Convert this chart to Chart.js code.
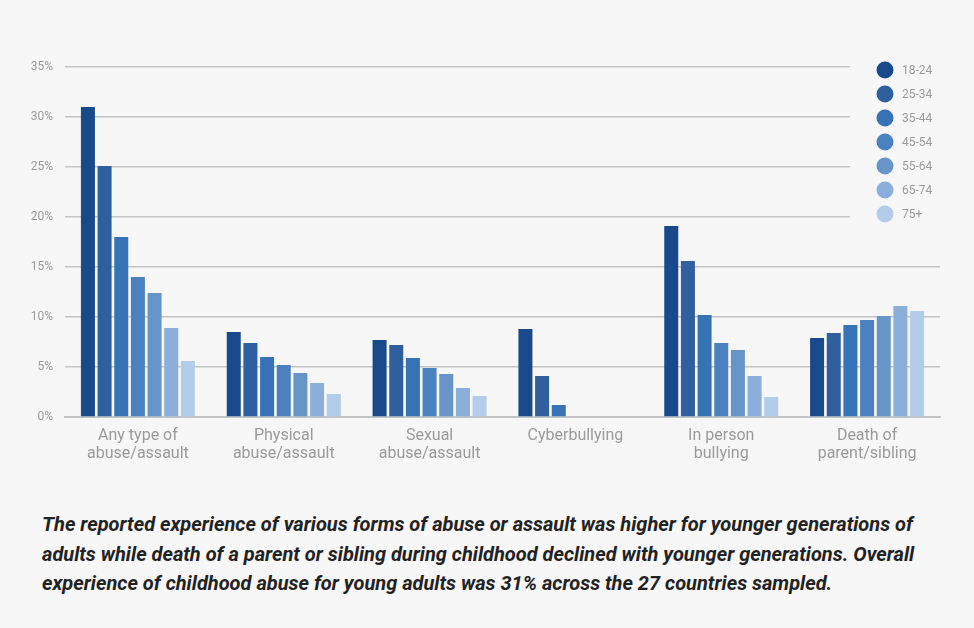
<!DOCTYPE html>
<html>
<head>
<meta charset="utf-8">
<script src="https://cdn.jsdelivr.net/npm/chart.js@4.4.1/dist/chart.umd.min.js"></script>
<style>
  html, body { margin: 0; padding: 0; background: #f7f7f7; }
  #wrap { position: absolute; left: 0; top: 0; width: 974px; height: 480px; }
  #caption { position: absolute; left: 42px; top: 510px; width: 930px; white-space: nowrap;
    font-family: Roboto, sans-serif; font-weight: bold; font-style: italic;
    font-size: 20px; line-height: 29.5px; color: #222; }
</style>
</head>
<body>
<div id="wrap"><canvas id="c"></canvas></div>
<div id="caption">The reported experience of various forms of abuse or assault was higher for younger generations of<br>adults while death of a parent or sibling during childhood declined with younger generations. Overall<br>experience of childhood abuse for young adults was 31% across the 27 countries sampled.</div>
<script>
const categories = [["Any type of","abuse/assault"],["Physical","abuse/assault"],["Sexual","abuse/assault"],["Cyberbullying"],["In person","bullying"],["Death of","parent/sibling"]];
const ageGroups = ["18-24","25-34","35-44","45-54","55-64","65-74","75+"];
const colors = ["#184a8b","#2f5f9f","#3771b6","#4b80c1","#6895c8","#8baeda","#b2cce9"];
const age18_24 = [31.0, 8.5, 7.7, 8.8, 19.1, 7.9];
const age25_34 = [25.1, 7.4, 7.2, 4.1, 15.6, 8.4];
const age35_44 = [18.0, 6.0, 5.9, 1.2, 10.2, 9.2];
const age45_54 = [14.0, 5.2, 4.9, 0, 7.4, 9.7];
const age55_64 = [12.4, 4.4, 4.3, 0, 6.7, 10.1];
const age65_74 = [8.9, 3.4, 2.9, 0, 4.1, 11.1];
const age75plus = [5.6, 2.3, 2.1, 0, 2.0, 10.6];
const seriesValues = [age18_24, age25_34, age35_44, age45_54, age55_64, age65_74, age75plus];
const yTicks = [0, 5, 10, 15, 20, 25, 30, 35];

const legendPlugin = {
  id: 'sideLegend',
  afterDatasetsDraw(chart) {
    const ctx = chart.ctx;
    ctx.save();
    ctx.fillStyle = '#f7f7f7';
    ctx.fillRect(850, 55, 100, 175);
    ctx.font = '12px Roboto, sans-serif';
    ctx.textBaseline = 'middle';
    ctx.textAlign = 'left';
    chart.data.datasets.forEach((ds, i) => {
      const y = 70 + i * 24;
      ctx.beginPath();
      ctx.arc(885, y, 8.5, 0, Math.PI * 2);
      ctx.fillStyle = ds.backgroundColor;
      ctx.fill();
      ctx.fillStyle = '#9a9a9a';
      ctx.fillText(ds.label, 902, y + 1);
    });
    ctx.restore();
  }
};

new Chart(document.getElementById('c'), {
  type: 'bar',
  data: {
    labels: categories,
    datasets: ageGroups.map((g, i) => ({
      label: g,
      data: seriesValues[i],
      backgroundColor: colors[i],
      categoryPercentage: 0.8,
      barPercentage: 0.84
    }))
  },
  plugins: [legendPlugin],
  options: {
    responsive: true,
    maintainAspectRatio: false,
    animation: false,
    layout: { padding: { left: 0, right: 34, top: 67, bottom: 0 } },
    plugins: { legend: { display: false }, tooltip: { enabled: false } },
    scales: {
      x: {
        grid: { display: false },
        border: { display: true, color: '#c4c4c4', width: 2 },
        ticks: { color: '#9a9a9a', font: { family: 'Roboto, sans-serif', size: 16, lineHeight: 1.12 }, padding: 2, maxRotation: 0 },
        afterFit(scale) { scale.height = 63; }
      },
      y: {
        min: 0, max: 35,
        afterBuildTicks(scale) { scale.ticks = yTicks.map(v => ({ value: v })); },
        grid: { color: '#c4c4c4', lineWidth: 1.5, drawTicks: false },
        border: { display: false },
        ticks: { color: '#9a9a9a', font: { family: 'Roboto, sans-serif', size: 12 }, padding: 12,
          callback: v => v + '%' },
        afterFit(scale) { scale.width = 65; }
      }
    }
  }
});
</script>
</body>
</html>
